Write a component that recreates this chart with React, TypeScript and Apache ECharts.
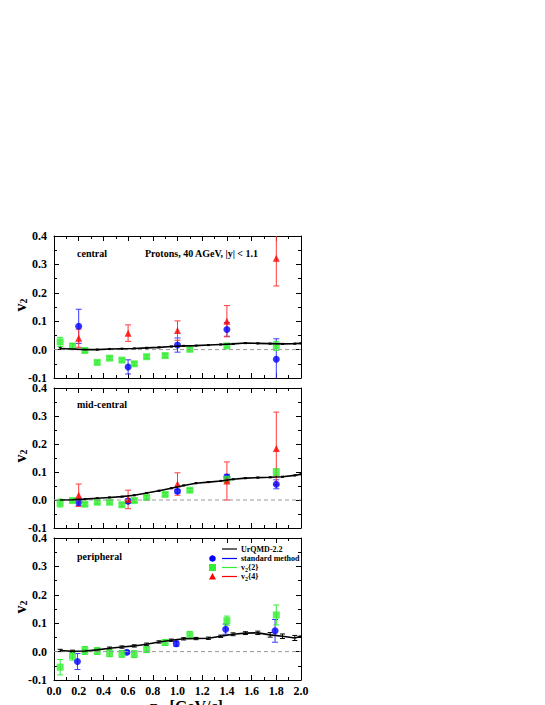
import React, { useEffect, useRef } from "react";
import * as echarts from "echarts";

// ---------- data ----------
const X_URQMD = [0.05, 0.15, 0.25, 0.35, 0.45, 0.55, 0.65, 0.75, 0.85, 0.95, 1.05, 1.15, 1.25, 1.35, 1.45, 1.55, 1.65, 1.75, 1.85, 1.95, 2.0];
const X_V22 = [0.05, 0.15, 0.25, 0.35, 0.45, 0.55, 0.65, 0.75, 0.9, 1.1, 1.4, 1.8];
const X_STD = [0.2, 0.6, 1.0, 1.4, 1.8];
const X_STD_PERIPH = [0.19, 0.59, 0.99, 1.39, 1.79];
const X_V24 = [0.2, 0.6, 1.0, 1.4, 1.8];

// central
const urqmdCentral = [0.004, 0.002, 0.0, 0.0, 0.002, 0.003, 0.004, 0.006, 0.008, 0.011, 0.013, 0.014, 0.016, 0.018, 0.02, 0.023, 0.022, 0.021, 0.02, 0.021, 0.022];
const urqmdCentralErr = [0.003, 0.002, 0.002, 0.002, 0.002, 0.002, 0.002, 0.002, 0.002, 0.002, 0.002, 0.002, 0.002, 0.002, 0.002, 0.002, 0.002, 0.002, 0.002, 0.002, 0.002];
const v22Central = [0.027, 0.012, -0.003, -0.045, -0.03, -0.037, -0.05, -0.025, -0.021, 0.001, 0.013, 0.013];
const v22CentralErr = [0.016, 0.01, 0.008, 0.006, 0.006, 0.006, 0.006, 0.006, 0.006, 0.006, 0.007, 0.016];
const stdCentral = [0.082, -0.061, 0.016, 0.071, -0.034];
const stdCentralErr = [0.06, 0.025, 0.025, 0.024, 0.072];
const v24Central = [0.04, 0.058, 0.067, 0.1, 0.322];
const v24CentralErr = [0.032, 0.029, 0.034, 0.055, 0.098];

// mid-central
const urqmdMid = [0.0, 0.001, 0.003, 0.006, 0.009, 0.012, 0.017, 0.025, 0.033, 0.042, 0.052, 0.06, 0.064, 0.068, 0.074, 0.078, 0.08, 0.081, 0.083, 0.088, 0.092];
const urqmdMidErr = [0.002, 0.002, 0.002, 0.002, 0.002, 0.002, 0.002, 0.002, 0.002, 0.002, 0.002, 0.002, 0.002, 0.002, 0.002, 0.002, 0.002, 0.002, 0.002, 0.002, 0.002];
const v22Mid = [-0.011, -0.002, -0.015, -0.008, -0.008, -0.017, -0.002, 0.009, 0.02, 0.035, 0.074, 0.1];
const v22MidErr = [0.014, 0.006, 0.006, 0.006, 0.006, 0.006, 0.006, 0.006, 0.006, 0.006, 0.01, 0.012];
const stdMid = [-0.008, -0.004, 0.031, 0.082, 0.056];
const stdMidErr = [0.012, 0.008, 0.006, 0.01, 0.016];
const v24Mid = [0.017, 0.002, 0.057, 0.068, 0.184];
const v24MidErr = [0.04, 0.033, 0.04, 0.068, 0.13];

// peripheral
const urqmdPeriph = [0.004, 0.001, 0.002, 0.006, 0.012, 0.016, 0.02, 0.026, 0.034, 0.04, 0.045, 0.046, 0.047, 0.054, 0.061, 0.065, 0.066, 0.059, 0.054, 0.048, 0.054];
const urqmdPeriphErr = [0.004, 0.004, 0.004, 0.004, 0.004, 0.004, 0.004, 0.004, 0.004, 0.004, 0.004, 0.004, 0.004, 0.004, 0.005, 0.005, 0.006, 0.008, 0.008, 0.009, 0.0];
const v22Periph = [-0.055, -0.015, 0.004, 0.002, -0.006, -0.008, -0.009, 0.007, 0.032, 0.058, 0.109, 0.129];
const v22PeriphErr = [0.027, 0.015, 0.014, 0.012, 0.012, 0.012, 0.012, 0.01, 0.01, 0.013, 0.016, 0.035];
const stdPeriph = [-0.035, -0.002, 0.028, 0.079, 0.073];
const stdPeriphErr = [0.028, 0.006, 0.009, 0.018, 0.04];

const PANEL_LABELS = ["central", "mid-central", "peripheral"];
const LEGEND_LABELS = ["UrQMD-2.2", "standard method", "2", "4"];

// ---------- style ----------
const FONT = "'Liberation Serif', 'Times New Roman', serif";
const BLUE = "#0000ff";
const GREEN = "#33ee33";
const RED = "#ff0000";
const GRID_LEFT = 54;
const GRID_WIDTH = 247;
const GRID_TOPS = [236, 388, 538];
const GRID_HEIGHTS = [142, 140, 142];

function errSeries(gi: number, xs: number[], ys: number[], es: number[], color: string, cw: number, lw = 1) {
  return {
    type: "custom",
    xAxisIndex: gi * 2,
    yAxisIndex: gi * 2,
    clip: true,
    silent: true,
    data: xs.map((x, i) => [x, ys[i] - es[i], ys[i] + es[i]]),
    encode: { x: 0, y: [1, 2] },
    renderItem: (params: any, api: any) => {
      const x = api.value(0);
      const lo = api.value(1);
      const hi = api.value(2);
      const a = api.coord([x, lo]);
      const b = api.coord([x, hi]);
      const st = { stroke: color, lineWidth: lw };
      return {
        type: "group",
        children: [
          { type: "line", shape: { x1: a[0], y1: a[1], x2: b[0], y2: b[1] }, style: st },
          { type: "line", shape: { x1: a[0] - cw, y1: a[1], x2: a[0] + cw, y2: a[1] }, style: st },
          { type: "line", shape: { x1: b[0] - cw, y1: b[1], x2: b[0] + cw, y2: b[1] }, style: st },
        ],
      };
    },
  };
}

function scatter(gi: number, xs: number[], ys: number[], color: string, symbol: string, size: number) {
  return {
    type: "scatter",
    xAxisIndex: gi * 2,
    yAxisIndex: gi * 2,
    symbol,
    symbolSize: size,
    itemStyle: { color },
    data: xs.map((x, i) => [x, ys[i]]),
  };
}

function lineSeries(gi: number, xs: number[], ys: number[]) {
  return {
    type: "line",
    xAxisIndex: gi * 2,
    yAxisIndex: gi * 2,
    showSymbol: false,
    symbol: "none",
    lineStyle: { color: "#000", width: 1.6 },
    data: xs.map((x, i) => [x, ys[i]]),
  };
}

function zeroLine(gi: number) {
  return {
    type: "line",
    xAxisIndex: gi * 2,
    yAxisIndex: gi * 2,
    symbol: "none",
    lineStyle: { color: "#999", width: 1, type: [4, 3] },
    data: [[0, 0], [2, 0]],
  };
}

function buildOption() {
  const grids: any[] = [];
  const xAxes: any[] = [];
  const yAxes: any[] = [];
  const tickCommon = {
    axisLine: { show: true, onZero: false, lineStyle: { color: "#000", width: 1 } },
    axisTick: { show: true, inside: true, length: 5, lineStyle: { color: "#000" } },
    minorTick: { show: true, splitNumber: 2, length: 3, lineStyle: { color: "#000" } },
    splitLine: { show: false },
    minorSplitLine: { show: false },
  };
  for (let g = 0; g < 3; g++) {
    grids.push({ left: GRID_LEFT, top: GRID_TOPS[g], width: GRID_WIDTH, height: GRID_HEIGHTS[g], containLabel: false, outerBoundsMode: "none" });
    xAxes.push({
      type: "value", gridIndex: g, position: "bottom", min: 0, max: 2, interval: 0.2,
      ...tickCommon,
      axisLabel: {
        show: g === 2, margin: 5, fontFamily: FONT, fontWeight: "bold", fontSize: 12, color: "#000",
        formatter: (v: number) => v.toFixed(1),
      },
    });
    xAxes.push({
      type: "value", gridIndex: g, position: "top", min: 0, max: 2, interval: 0.2,
      ...tickCommon,
      axisLabel: { show: false },
    });
    yAxes.push({
      type: "value", gridIndex: g, position: "left", min: -0.1, max: 0.4, interval: 0.1,
      ...tickCommon,
      axisLabel: {
        show: true, margin: 7, fontFamily: FONT, fontWeight: "bold", fontSize: 12, color: "#000",
        formatter: (v: number) => v.toFixed(1),
      },
    });
    yAxes.push({
      type: "value", gridIndex: g, position: "right", min: -0.1, max: 0.4, interval: 0.1,
      ...tickCommon,
      axisLabel: { show: false },
    });
  }

  const series: any[] = [
    zeroLine(0), zeroLine(1), zeroLine(2),
    // central
    lineSeries(0, X_URQMD, urqmdCentral),
    errSeries(0, X_URQMD, urqmdCentral, urqmdCentralErr, "#000", 1.5),
    errSeries(0, X_STD, stdCentral, stdCentralErr, "#3a3aff", 3),
    scatter(0, X_STD, stdCentral, BLUE, "circle", 7),
    errSeries(0, X_V22, v22Central, v22CentralErr, GREEN, 3),
    scatter(0, X_V22, v22Central, GREEN, "rect", 7),
    errSeries(0, X_V24, v24Central, v24CentralErr, "#ff3a3a", 3),
    scatter(0, X_V24, v24Central, RED, "triangle", 7),
    // mid-central
    lineSeries(1, X_URQMD, urqmdMid),
    errSeries(1, X_URQMD, urqmdMid, urqmdMidErr, "#000", 1.5),
    errSeries(1, X_STD, stdMid, stdMidErr, "#3a3aff", 3),
    scatter(1, X_STD, stdMid, BLUE, "circle", 7),
    errSeries(1, X_V22, v22Mid, v22MidErr, GREEN, 3),
    scatter(1, X_V22, v22Mid, GREEN, "rect", 7),
    errSeries(1, X_V24, v24Mid, v24MidErr, "#ff3a3a", 3),
    scatter(1, X_V24, v24Mid, RED, "triangle", 7),
    // peripheral
    lineSeries(2, X_URQMD, urqmdPeriph),
    errSeries(2, X_URQMD, urqmdPeriph, urqmdPeriphErr, "#000", 2.5),
    errSeries(2, X_STD_PERIPH, stdPeriph, stdPeriphErr, "#3a3aff", 3),
    scatter(2, X_STD_PERIPH, stdPeriph, BLUE, "circle", 7),
    errSeries(2, X_V22, v22Periph, v22PeriphErr, GREEN, 3),
    scatter(2, X_V22, v22Periph, GREEN, "rect", 7),
  ];

  const labelFont = `bold 10px ${FONT}`;
  const graphic: any[] = [];
  const labelYs = [254, 405, 557];
  PANEL_LABELS.forEach((t, i) => {
    graphic.push({ type: "text", left: 77, top: labelYs[i] - 6, style: { text: t, font: labelFont, fill: "#000" } });
  });
  graphic.push({ type: "text", left: 145, top: 248, style: { text: "Protons, 40 AGeV, |y| < 1.1", font: labelFont, fill: "#000" } });

  // y-axis titles "v2"
  GRID_TOPS.forEach((t, i) => {
    const cy = t + GRID_HEIGHTS[i] / 2 - 2;
    graphic.push({
      type: "text", x: 20, y: cy, rotation: Math.PI / 2,
      style: {
        text: "{a|v}{b|2}",
        align: "center", verticalAlign: "middle",
        rich: {
          a: { font: `bold 16px ${FONT}`, fill: "#000" },
          b: { font: `bold 10px ${FONT}`, fill: "#000", padding: [7, 0, 0, 0] },
        },
      },
    });
  });

  // x-axis title (cut by page bottom)
  graphic.push({
    type: "text", x: 150, y: 697,
    style: {
      text: "{a|p}{b|T}{a| [GeV/c]}",
      rich: {
        a: { font: `bold 16px ${FONT}`, fill: "#000" },
        b: { font: `bold 10px ${FONT}`, fill: "#000", padding: [8, 0, 0, 0] },
      },
    },
  });

  // legend
  const lgY = [549, 558.5, 567.5, 576.5];
  const lgColors = ["#000", BLUE, GREEN, RED];
  const lgFont = `bold 8px ${FONT}`;
  lgY.forEach((y, i) => {
    graphic.push({ type: "line", shape: { x1: 222, y1: y, x2: 237, y2: y }, style: { stroke: lgColors[i], lineWidth: 1.2 } });
  });
  graphic.push({ type: "circle", shape: { cx: 212.5, cy: lgY[1], r: 3.3 }, style: { fill: BLUE } });
  graphic.push({ type: "rect", shape: { x: 209, y: lgY[2] - 3.5, width: 7, height: 7 }, style: { fill: GREEN } });
  graphic.push({ type: "polygon", shape: { points: [[212.5, lgY[3] - 3.5], [216, lgY[3] + 3], [209, lgY[3] + 3]] }, style: { fill: RED } });
  const lgRich = {
    n: { font: lgFont, fill: "#000" },
    s: { font: `bold 6px ${FONT}`, fill: "#000", padding: [4, 0, 0, 0] },
  };
  const lgText = (txt: string) => ({ text: txt, rich: lgRich, font: lgFont, fill: "#000", verticalAlign: "middle" });
  graphic.push({ type: "text", x: 241, y: lgY[0], style: lgText(`{n|${LEGEND_LABELS[0]}}`) });
  graphic.push({ type: "text", x: 241, y: lgY[1], style: lgText(`{n|${LEGEND_LABELS[1]}}`) });
  graphic.push({ type: "text", x: 241, y: lgY[2], style: lgText(`{n|v}{s|2}{n|{${LEGEND_LABELS[2]}}}`) });
  graphic.push({ type: "text", x: 241, y: lgY[3], style: lgText(`{n|v}{s|2}{n|{${LEGEND_LABELS[3]}}}`) });

  return {
    animation: false,
    backgroundColor: "#fff",
    grid: grids,
    xAxis: xAxes,
    yAxis: yAxes,
    series,
    graphic,
  };
}

export default function App() {
  const ref = useRef<HTMLDivElement>(null);
  useEffect(() => {
    document.body.style.margin = "0";
    const chart = echarts.init(ref.current!, null, { renderer: "svg" });
    chart.setOption(buildOption() as any);
    return () => chart.dispose();
  }, []);
  return <div ref={ref} style={{ position: "fixed", left: 0, top: 0, width: 545, height: 705 }} />;
}
